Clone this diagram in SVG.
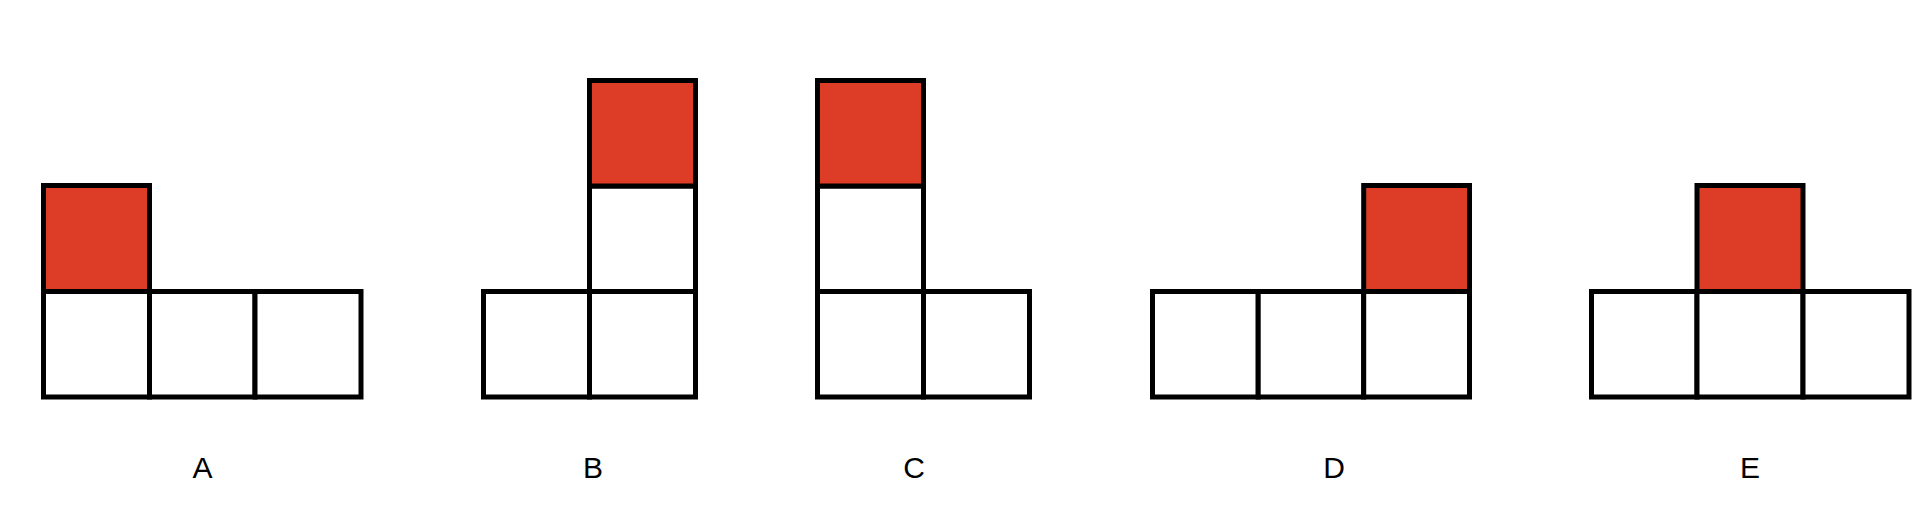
<svg xmlns="http://www.w3.org/2000/svg" width="1924" height="520" viewBox="0 0 1924 520">
<style>
.c{fill:#ffffff;stroke:#000000;stroke-width:5}
.r{fill:#DD3D26;stroke:#000000;stroke-width:5}
.t{font-family:"Liberation Sans",Arial,sans-serif;font-size:30px;fill:#000000;text-anchor:middle}
</style>
<rect width="1924" height="520" fill="#ffffff"/>
<g id="A">
<rect class="c" x="43.5" y="291.5" width="106" height="105.5"/>
<rect class="c" x="149.5" y="291.5" width="105.5" height="105.5"/>
<rect class="c" x="255" y="291.5" width="106" height="105.5"/>
<rect class="r" x="43.5" y="185.5" width="106" height="106"/>
<text class="t" x="202.5" y="477.5">A</text>
</g>
<g id="B">
<rect class="c" x="483.5" y="291.5" width="106" height="105.5"/>
<rect class="c" x="589.5" y="291.5" width="106" height="105.5"/>
<rect class="c" x="589.5" y="186" width="106" height="105.5"/>
<rect class="r" x="589.5" y="80.5" width="106" height="105.5"/>
<text class="t" x="593" y="477.5">B</text>
</g>
<g id="C">
<rect class="c" x="817.5" y="291.5" width="106" height="105.5"/>
<rect class="c" x="923.5" y="291.5" width="106" height="105.5"/>
<rect class="c" x="817.5" y="186" width="106" height="105.5"/>
<rect class="r" x="817.5" y="80.5" width="106" height="105.5"/>
<text class="t" x="914" y="477.5">C</text>
</g>
<g id="D">
<rect class="c" x="1152.5" y="291.5" width="105.7" height="105.5"/>
<rect class="c" x="1258.2" y="291.5" width="105.5" height="105.5"/>
<rect class="c" x="1363.7" y="291.5" width="105.8" height="105.5"/>
<rect class="r" x="1363.7" y="185.5" width="105.8" height="106"/>
<text class="t" x="1334" y="477.5">D</text>
</g>
<g id="E">
<rect class="c" x="1591.5" y="291.5" width="105.5" height="105.5"/>
<rect class="c" x="1697" y="291.5" width="106" height="105.5"/>
<rect class="c" x="1803" y="291.5" width="106" height="105.5"/>
<rect class="r" x="1697" y="185.5" width="106" height="106"/>
<text class="t" x="1750" y="477.5">E</text>
</g>
<g id="connectors"></g>
</svg>
